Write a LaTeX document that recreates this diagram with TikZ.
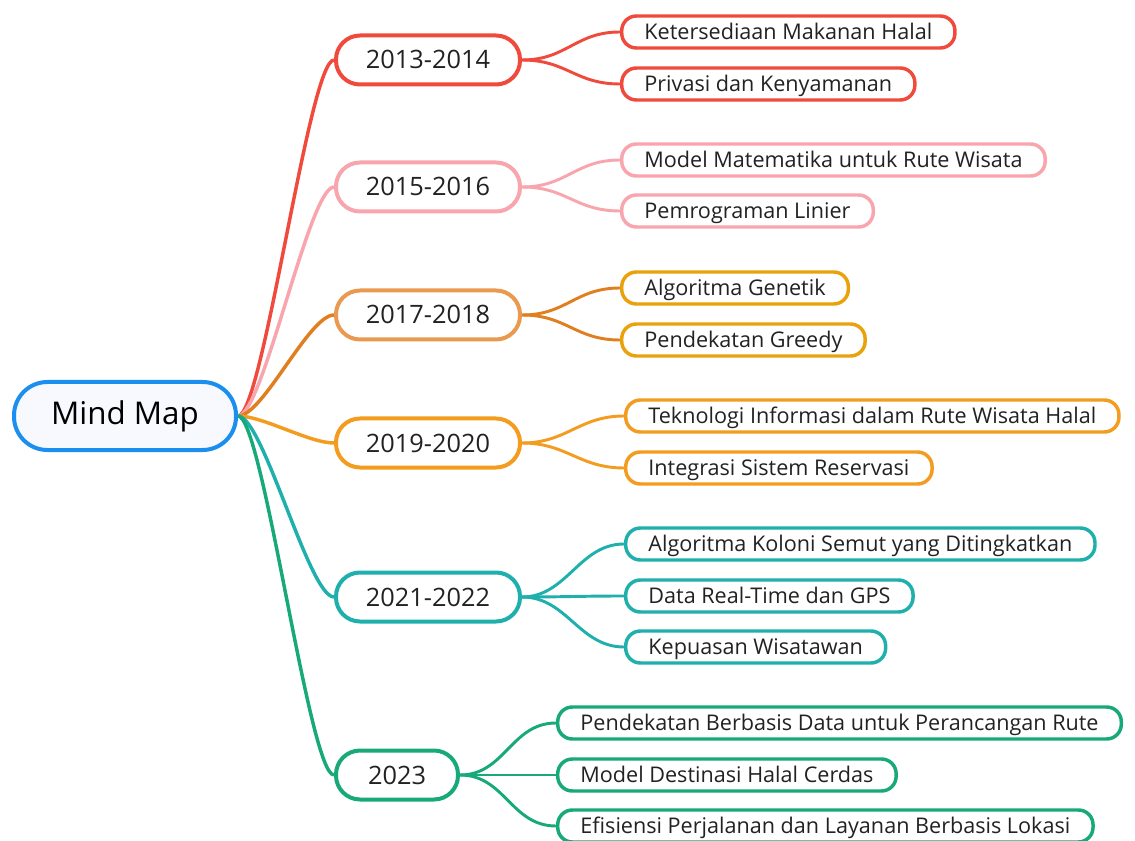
\documentclass[tikz,border=0pt]{standalone}
\usepackage{fontspec}
\setmainfont{Open Sans}
\usetikzlibrary{backgrounds}
\definecolor{mmblue}{HTML}{1A8FEF}
\definecolor{mmbg}{HTML}{F8F8FF}
\definecolor{mmred}{HTML}{F04A3C}
\definecolor{mmpink}{HTML}{F8A5AE}
\definecolor{mmpeach}{HTML}{E99A50}
\definecolor{mmdark}{HTML}{E07F1F}
\definecolor{mmgold}{HTML}{E9A20C}
\definecolor{mmorange}{HTML}{F39C1F}
\definecolor{mmteal}{HTML}{1FAFAD}
\definecolor{mmgreen}{HTML}{17A97A}
\definecolor{mmtext}{HTML}{222222}
\begin{document}
\begin{tikzpicture}[x=0.75pt,y=-0.75pt,
    rootnode/.style={draw=mmblue, line width=3pt, fill=mmbg, rounded corners=25pt,
      minimum width=166.5pt, minimum height=51pt, text=black,
      font=\fontsize{23.5}{28}\selectfont},
    yearnode/.style={draw=#1, line width=3pt, fill=white, rounded corners=18pt,
      minimum width=138pt, minimum height=36.75pt, text=mmtext,
      text height=14pt, text depth=0.5pt, font=\fontsize{19}{23}\selectfont},
    leafnode/.style={draw=#1, line width=2.6pt, fill=white, rounded corners=11pt,
      minimum height=24pt, inner xsep=17pt, anchor=west, text=mmtext,
      text height=12.5pt, text depth=1.5pt, font=\fontsize{16.2}{19}\selectfont},
    trunk/.style={draw=#1, line width=2.6pt},
    twig/.style={draw=#1, line width=2.2pt}]
  \useasboundingbox (0,0) rectangle (1135,841);

  % centre
  \node[rootnode] (root) at (125,416) {Mind Map};

  % periods
  \node[yearnode=mmred]    (p1) at (428,60)  {2013-2014};
  \node[yearnode=mmpink]   (p2) at (428,187) {2015-2016};
  \node[yearnode=mmpeach]  (p3) at (428,315) {2017-2018};
  \node[yearnode=mmorange] (p4) at (428,443) {2019-2020};
  \node[yearnode=mmteal]   (p5) at (428,597) {2021-2022};
  \node[yearnode=mmgreen, minimum width=91.5pt] (p6) at (397,775) {2023};

  % topics
  \node[leafnode=mmred]    (t11) at (620,32)  {Ketersediaan Makanan Halal};
  \node[leafnode=mmred]    (t12) at (620,84)  {Privasi dan Kenyamanan};
  \node[leafnode=mmpink]   (t21) at (620,160) {Model Matematika untuk Rute Wisata};
  \node[leafnode=mmpink]   (t22) at (620,211) {Pemrograman Linier};
  \node[leafnode=mmgold]   (t31) at (620,288) {Algoritma Genetik};
  \node[leafnode=mmgold]   (t32) at (620,340) {Pendekatan Greedy};
  \node[leafnode=mmorange] (t41) at (624,416) {Teknologi Informasi dalam Rute Wisata Halal};
  \node[leafnode=mmorange] (t42) at (624,468) {Integrasi Sistem Reservasi};
  \node[leafnode=mmteal]   (t51) at (624,544) {Algoritma Koloni Semut yang Ditingkatkan};
  \node[leafnode=mmteal]   (t52) at (624,596) {Data Real-Time dan GPS};
  \node[leafnode=mmteal]   (t53) at (624,647) {Kepuasan Wisatawan};
  \node[leafnode=mmgreen]  (t61) at (556,723) {Pendekatan Berbasis Data untuk Perancangan Rute};
  \node[leafnode=mmgreen]  (t62) at (556,775) {Model Destinasi Halal Cerdas};
  \node[leafnode=mmgreen]  (t63) at (556,826) {Efisiensi Perjalanan dan Layanan Berbasis Lokasi};

  \begin{scope}[on background layer]
    \foreach \p/\c in {p1/mmred, p2/mmpink, p3/mmdark, p4/mmorange, p5/mmteal, p6/mmgreen}
      \draw[trunk=\c] (root.east) .. controls +(25,0) and +(-25,0) .. (\p.west);
    \foreach \p/\t/\c in {p1/t11/mmred, p1/t12/mmred, p2/t21/mmpink, p2/t22/mmpink,
        p3/t31/mmdark, p3/t32/mmdark, p4/t41/mmorange, p4/t42/mmorange,
        p5/t51/mmteal, p5/t52/mmteal, p5/t53/mmteal,
        p6/t61/mmgreen, p6/t62/mmgreen, p6/t63/mmgreen}
      \draw[twig=\c] (\p.east) .. controls +(45,0) and +(-45,0) .. (\t.west);
  \end{scope}
\end{tikzpicture}
\end{document}
